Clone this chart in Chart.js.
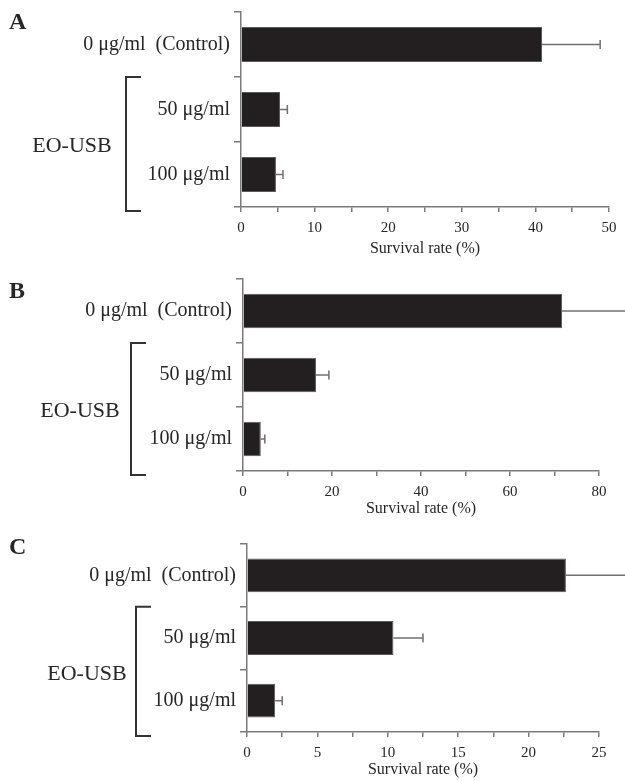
<!DOCTYPE html>
<html>
<head>
<meta charset="utf-8">
<script src="https://cdn.jsdelivr.net/npm/chart.js@4.4.0/dist/chart.umd.min.js"></script>
<style>
  html, body { margin: 0; padding: 0; background: #fff; }
  .panel { position: absolute; left: 0; width: 625px; }
</style>
</head>
<body>
<div class="panel" style="top:0;height:260px"><canvas id="chartA"></canvas></div>
<div class="panel" style="top:260px;height:260px"><canvas id="chartB"></canvas></div>
<div class="panel" style="top:520px;height:261px"><canvas id="chartC"></canvas></div>
<script>
// shared categories
const categories = ['0 \u03bcg/ml  (Control)', '50 \u03bcg/ml', '100 \u03bcg/ml'];
const groupLabel = 'EO-USB';
const axisTitle = 'Survival rate (%)';

// panel A
const survivalA = [40.9, 5.3, 4.75];
const errorA = [7.9, 1.0, 0.95];
const ticksA = { max: 50, step: 5, labelEvery: 10 };

// panel B
const survivalB = [71.7, 16.4, 4.0];
const errorB = [15, 2.9, 0.9];
const ticksB = { max: 80, step: 10, labelEvery: 20 };

// panel C
const survivalC = [22.65, 10.4, 2.0];
const errorC = [4.5, 2.1, 0.5];
const ticksC = { max: 25, step: 2.5, labelEvery: 5 };

const FONT = "'Liberation Serif', 'Times New Roman', serif";
const TEXT = '#262626';
const AXIS = '#7a7a7a';

// error bars, the EO-USB bracket and the panel letter
const extrasPlugin = {
  id: 'extras',
  afterDatasetsDraw(chart, args, opts) {
    const ctx = chart.ctx;
    const xs = chart.scales.x;
    const ys = chart.scales.y;
    const meta = chart.getDatasetMeta(0);
    const values = chart.data.datasets[0].data;

    ctx.save();
    ctx.strokeStyle = '#707070';
    ctx.lineWidth = 1.5;
    meta.data.forEach((bar, i) => {
      const xe = xs.getPixelForValue(values[i] + opts.errors[i]);
      ctx.beginPath();
      ctx.moveTo(bar.x, bar.y);
      ctx.lineTo(xe, bar.y);
      ctx.moveTo(xe, bar.y - 4.5);
      ctx.lineTo(xe, bar.y + 4.5);
      ctx.stroke();
    });

    // bracket round the two treated groups
    const top = ys.getPixelForValue(0.5);
    const bottom = chart.chartArea.bottom + 4;
    ctx.strokeStyle = '#333';
    ctx.lineWidth = 2;
    ctx.beginPath();
    ctx.moveTo(opts.bracketX + 15, top);
    ctx.lineTo(opts.bracketX, top);
    ctx.lineTo(opts.bracketX, bottom);
    ctx.lineTo(opts.bracketX + 15, bottom);
    ctx.stroke();

    ctx.fillStyle = TEXT;
    ctx.font = '22px ' + FONT;
    ctx.textAlign = 'center';
    ctx.textBaseline = 'middle';
    ctx.fillText(groupLabel, opts.groupX, (top + bottom) / 2 + 2.5);

    ctx.font = 'bold 24px ' + FONT;
    ctx.textAlign = 'left';
    ctx.fillText(opts.letter, 9, opts.letterY);
    ctx.restore();
  }
};

function makeChart(id, values, errors, tk, layout) {
  return new Chart(document.getElementById(id), {
    type: 'bar',
    data: {
      labels: categories,
      datasets: [{
        data: values,
        backgroundColor: '#231f20',
        borderColor: '#5a5a5a',
        borderWidth: 1,
        barPercentage: 0.54,
        categoryPercentage: 1
      }]
    },
    options: {
      indexAxis: 'y',
      responsive: true,
      maintainAspectRatio: false,
      animation: false,
      layout: { padding: { left: 0, right: layout.right, top: layout.top, bottom: 0 } },
      plugins: {
        legend: { display: false },
        tooltip: { enabled: false },
        extras: {
          errors: errors,
          bracketX: layout.bracketX,
          groupX: layout.groupX,
          letter: layout.letter,
          letterY: layout.letterY
        }
      },
      scales: {
        x: {
          type: 'linear',
          min: 0,
          max: tk.max,
          afterFit: (s) => { s.height = layout.xHeight; },
          ticks: {
            stepSize: tk.step,
            autoSkip: false,
            maxRotation: 0,
            padding: 7,
            color: TEXT,
            font: { family: FONT, size: 15 },
            callback: (v) => (Math.abs(v % tk.labelEvery) < 1e-9 ? v : '')
          },
          grid: { drawOnChartArea: false, tickLength: 5, color: AXIS, lineWidth: 1.5 },
          border: { display: true, color: AXIS, width: 1.5 },
          title: {
            display: true,
            text: axisTitle,
            color: TEXT,
            font: { family: FONT, size: 16 },
            padding: { top: 0, bottom: 2 }
          }
        },
        y: {
          type: 'category',
          afterFit: (s) => {
            s.width = layout.yWidth;
            s.paddingTop = 0;
            s.paddingBottom = 0;
          },
          ticks: {
            padding: 4,
            color: TEXT,
            font: { family: FONT, size: 20 }
          },
          grid: { drawOnChartArea: false, offset: true, tickLength: 7, color: AXIS, lineWidth: 1.5 },
          border: { display: true, color: AXIS, width: 1.5 }
        }
      }
    },
    plugins: [extrasPlugin]
  });
}

makeChart('chartA', survivalA, errorA, ticksA,
  { yWidth: 241, right: 16, top: 12, xHeight: 53, bracketX: 126, groupX: 72, letter: 'A', letterY: 23 });
makeChart('chartB', survivalB, errorB, ticksB,
  { yWidth: 243, right: 26, top: 19, xHeight: 49, bracketX: 131, groupX: 80, letter: 'B', letterY: 32 });
makeChart('chartC', survivalC, errorC, ticksC,
  { yWidth: 247, right: 26, top: 24, xHeight: 49, bracketX: 136, groupX: 87, letter: 'C', letterY: 28 });
</script>
</body>
</html>
